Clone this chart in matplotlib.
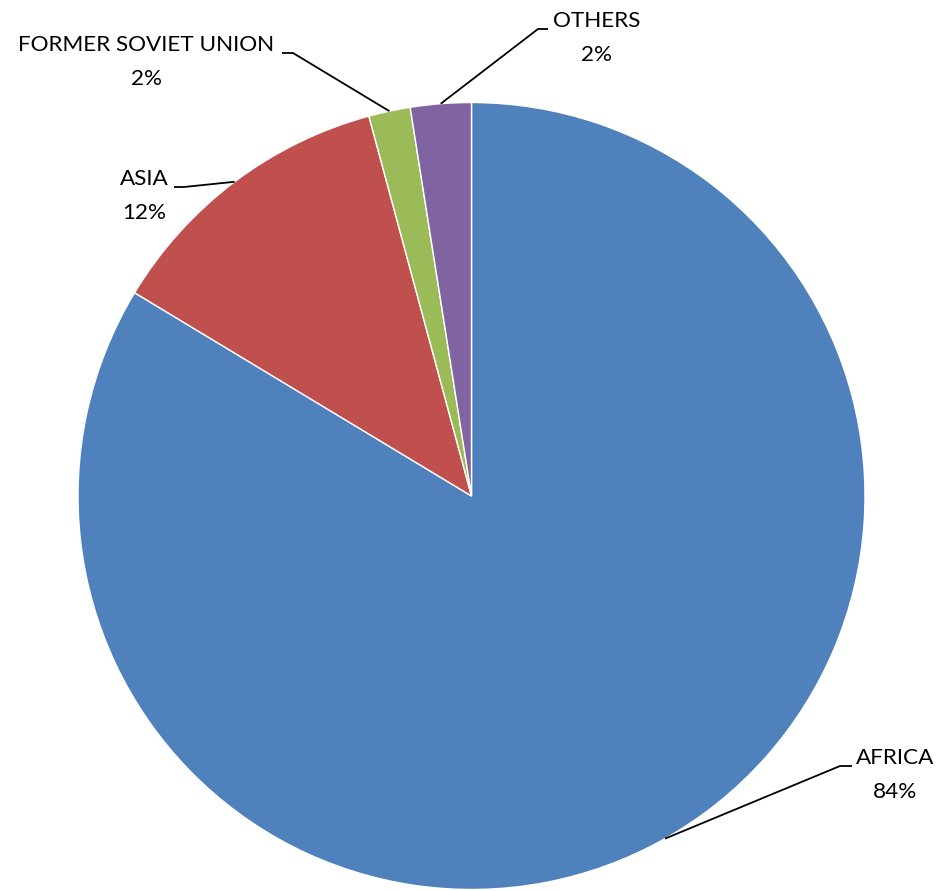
import numpy as np
import matplotlib
matplotlib.use("Agg")
import matplotlib.pyplot as plt

# Share of world production by region (%)
regions = ["AFRICA", "ASIA", "FORMER SOVIET UNION", "OTHERS"]
shares = [83.64, 12.16, 1.71, 2.49]
colors = ["#4F81BD", "#C0504D", "#9BBB59", "#8064A2"]

W, H = 942, 891
plt.rcParams['font.family'] = ['Lato', 'DejaVu Sans']

fig = plt.figure(figsize=(W / 100, H / 100), dpi=100)
ax = fig.add_axes([0, 0, 1, 1])

cx, cy, r = 471.5, H - 496, 393.5
wedges, _ = ax.pie(shares, colors=colors, startangle=90, counterclock=False,
                   center=(cx, cy), radius=r,
                   wedgeprops=dict(edgecolor="white", linewidth=1))
ax.set_xlim(0, W)
ax.set_ylim(0, H)
ax.set_aspect("equal")
ax.axis("off")

# label text centre (px, top-down) and elbow point of leader line
label_pos = {
    "AFRICA": (895, 775, 840, 766, 852),
    "ASIA": (144, 196, 184, 187, 174),
    "FORMER SOVIET UNION": (146, 62, 293, 53, 282),
    "OTHERS": (597, 38, 538, 29, 548),
}

total = sum(shares)
for w, name, v in zip(wedges, regions, shares):
    tx, ty, ex, ey, hx = label_pos[name]
    mid = np.deg2rad((w.theta1 + w.theta2) / 2)
    ax_x = cx + r * np.cos(mid)
    ax_y = cy + r * np.sin(mid)
    ax.plot([ax_x, ex, hx], [ax_y, H - ey, H - ey], color="black", lw=1.3,
            solid_capstyle="butt")
    ax.text(tx, H - ty, f"{name}\n{v / total:.0%}", ha="center", va="center",
            fontsize=16.2, linespacing=1.93)

fig.savefig("out.png", dpi=100)
